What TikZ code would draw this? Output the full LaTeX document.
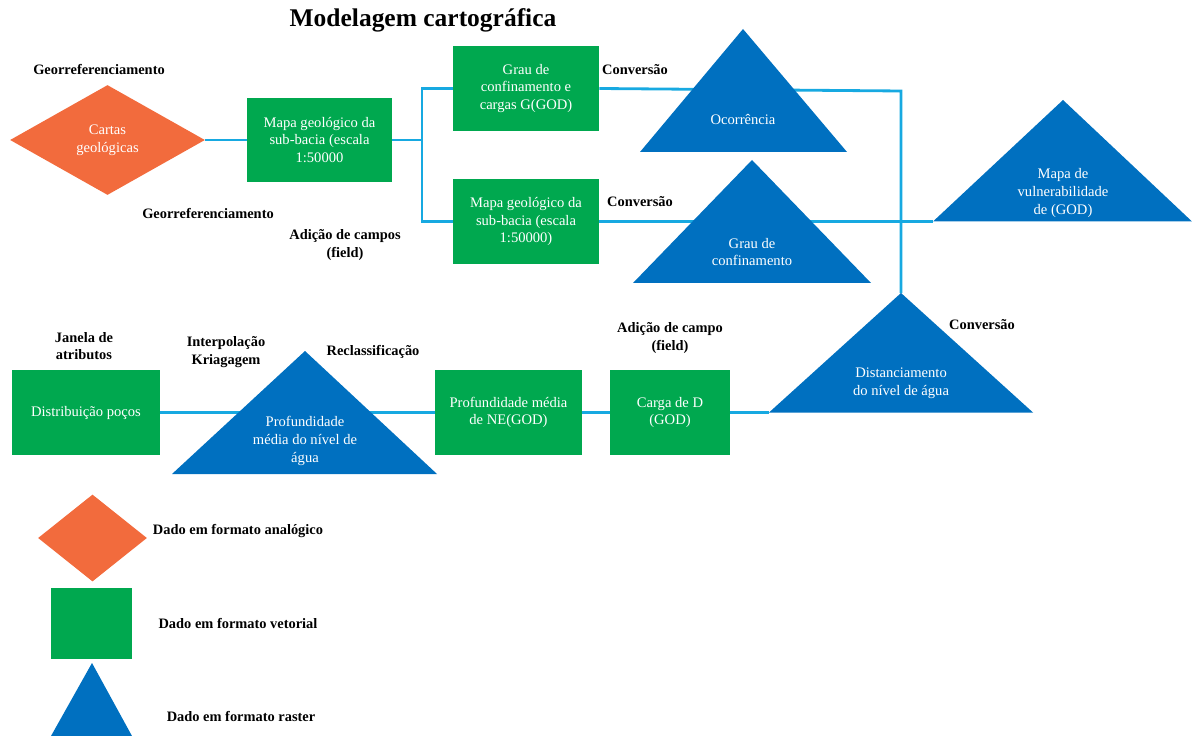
\documentclass[tikz,border=0pt]{standalone}
\usepackage{fontspec}
\setmainfont{Liberation Serif}
\usepackage{tikz}
\usetikzlibrary{shapes.geometric}

\definecolor{analog}{RGB}{242,107,61}
\definecolor{vetor}{RGB}{0,168,79}
\definecolor{raster}{RGB}{0,112,192}
\definecolor{ligacao}{RGB}{23,169,225}

\begin{document}
\begin{tikzpicture}[x=0.02cm,y=-0.02cm,
		vetorial/.style={rectangle,fill=vetor,text=white,align=center,inner sep=1pt,
			minimum width=2.92cm,minimum height=1.7cm,font=\fontsize{8.3}{10}\selectfont},
		analogico/.style={diamond,fill=analog,text=white,align=center,inner sep=0pt,
			font=\fontsize{8.3}{10}\selectfont},
		rtexto/.style={text=white,align=center,inner sep=0pt,font=\fontsize{8.3}{10}\selectfont},
		rotulo/.style={align=center,inner sep=0pt,font=\fontsize{8.2}{10}\selectfont\bfseries},
		ligar/.style={draw=ligacao,line width=1.6pt}]
			\useasboundingbox (0,0) rectangle (1192,736);
			\node[font=\fontsize{14.5}{16}\selectfont\bfseries] (titulo) at (423,20) {Modelagem cartográfica};
			
			% linha de cima
			\node[analogico,minimum width=3.9cm,minimum height=2.2cm] (cartas) at (107.5,140) {Cartas\\geológicas};
			\node[vetorial,minimum width=2.9cm] (geo1) at (319.5,140) {Mapa geológico da\\sub-bacia (escala\\1:50000};
			\node[vetorial] (grau) at (526,88.5) {Grau de\\confinamento e\\cargas G(GOD)};
			\node[vetorial] (geo2) at (526,221.5) {Mapa geológico da\\sub-bacia (escala\\1:50000)};
			
			% linha de baixo
			\node[vetorial,minimum width=2.96cm] (distr) at (86,412.5) {Distribuição poços};
			\node[vetorial,minimum width=2.94cm] (profNE) at (508.5,412.5) {Profundidade média\\de NE(GOD)};
			\node[vetorial,minimum width=2.4cm] (carga) at (670,412.5) {Carga de D\\(GOD)};
			
			\coordinate (bifurca) at (422,140);
			\coordinate (canto) at (901,91);
			\coordinate (vulnEsq) at (933,221.5);
			\coordinate (distTopo) at (901,293);
			\coordinate (distEsq) at (769,412.5);
			\coordinate (profMeio) at (305,412.5);
			
			\path[ligar] (cartas.east) -- (geo1.west);
			\path[ligar] (geo1.east) -- (bifurca);
			\path[ligar] (grau.west) -| (bifurca) |- (geo2.west);
			\path[ligar] (grau.east) -- (canto) -- (distTopo);
			\path[ligar] (geo2.east) -- (vulnEsq);
			\path[ligar] (distr.east) -- (profMeio) -- (profNE.west);
			\path[ligar] (profNE.east) -- (carga.west);
			\path[ligar] (carga.east) -- (distEsq);
			
			% triangulos (raster)
			\fill[raster] (640,152) -- (743,29) -- (847,152) -- cycle;
			\fill[raster] (633,283) -- (752,160) -- (871,283) -- cycle;
			\fill[raster] (vulnEsq) -- (1063,100) -- (1192,221.5) -- cycle;
			\fill[raster] (distEsq) -- (distTopo) -- (1033,412.5) -- cycle;
			\fill[raster] (172,474) -- (305,351) -- (437,474) -- cycle;
			
			\node[rtexto] (ocorr) at (743,120) {Ocorrência};
			\node[rtexto] (grauconf) at (752,252) {Grau de\\confinamento};
			\node[rtexto] (vuln) at (1063,193) {Mapa de\\vulnerabilidade\\de (GOD)};
			\node[rtexto] (distan) at (901,383) {Distanciamento\\do nível de água};
			\node[rtexto] (prof) at (305,441) {Profundidade\\média do nível de\\água};
			
			% rotulos das operacoes
			\node[rotulo] (geor1) at (99,70) {Georreferenciamento};
			\node[rotulo] (geor2) at (208,213) {Georreferenciamento};
			\node[rotulo] (adic1) at (345,245) {Adição de campos\\(field)};
			\node[rotulo] (conv1) at (635,70) {Conversão};
			\node[rotulo] (conv2) at (640,202) {Conversão};
			\node[rotulo] (conv3) at (982,325) {Conversão};
			\node[rotulo] (janela) at (84,346) {Janela de\\atributos};
			\node[rotulo] (interp) at (226,352) {Interpolação\\Kriagagem};
			\node[rotulo] (reclass) at (373,352) {Reclassificação};
			\node[rotulo] (adic2) at (670,338) {Adição de campo\\(field)};
			
			% legenda
			\node[analogico,minimum width=2.18cm,minimum height=1.74cm] (legA) at (92.5,538) {};
			\node[vetorial,minimum width=1.62cm,minimum height=1.42cm] (legV) at (91.5,623.5) {};
			\fill[raster] (51,736) -- (92,663) -- (132,736) -- cycle;
			\node[rotulo] (legAtxt) at (238,531) {Dado em formato analógico};
			\node[rotulo] (legVtxt) at (238,623) {Dado em formato vetorial};
			\node[rotulo] (legRtxt) at (241,716) {Dado em formato raster};
		\end{tikzpicture}
\end{document}
